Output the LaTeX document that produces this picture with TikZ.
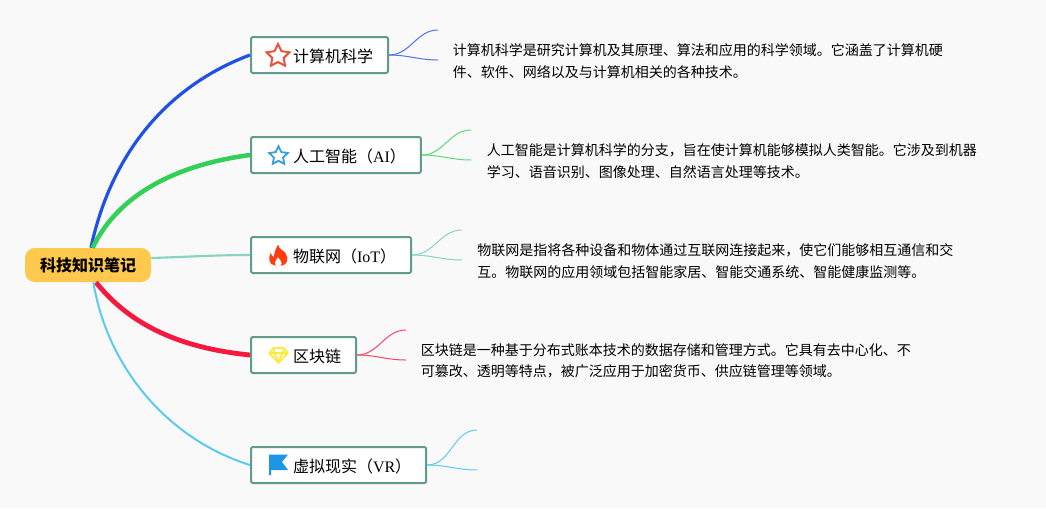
\documentclass[tikz,border=0pt]{standalone}
\usepackage{fontspec}
\setmainfont{Noto Sans CJK SC}
\newfontfamily\latinpart{Liberation Serif}
\usetikzlibrary{shapes.geometric}
\definecolor{paper}{HTML}{F9F9F9}
\definecolor{rootfill}{HTML}{FFC94D}
\definecolor{boxline}{HTML}{5F9C8D}
\definecolor{csblue}{HTML}{1F50E8}
\definecolor{aigreen}{HTML}{33D058}
\definecolor{iotteal}{HTML}{86D4C4}
\definecolor{chainred}{HTML}{F5193F}
\definecolor{vrblue}{HTML}{5CCBF0}
\definecolor{starred}{HTML}{E8533F}
\definecolor{starblue}{HTML}{3AA0DC}
\definecolor{flamered}{HTML}{FF3D0F}
\definecolor{gemyellow}{HTML}{FBEB45}
\definecolor{flagblue}{HTML}{1E96E6}
\begin{document}
\begin{tikzpicture}[
    x=0.75pt,
    y=-0.75pt,
    root/.style={
        rectangle,
        rounded corners=7.5pt,
        fill=rootfill,
        minimum width=94.5pt,
        minimum height=25.5pt,
        inner sep=0pt,
        font=\fontsize{12}{14}\selectfont\bfseries
    },
    topic/.style={
        rectangle,
        draw=boxline,
        fill=white,
        line width=1.5pt,
        rounded corners=1.5pt,
        anchor=west,
        minimum height=27pt,
        inner xsep=11.25pt,
        inner ysep=0pt,
        text height=11pt,
        text depth=0.5pt,
        execute at begin node=\hspace*{20.25pt},
        font=\fontsize{12}{14}\selectfont
    },
    note/.style={
        anchor=west,
        align=left,
        inner sep=0pt,
        font=\fontsize{10.5}{16}\selectfont
    },
    branch/.style={
        line cap=butt
    },
    twig/.style={
        line width=0.75pt
    },
    staricon/.style={
        star,
        star points=5,
        star point ratio=2,
        inner sep=0pt,
        fill=white
    }
]

% Fondo
\useasboundingbox (0,0) rectangle (1046,508);
\fill[paper] (0,0) rectangle (1046,508);

% Nodo central
\node[root] (root) at (88,265) {科技知识笔记};

% Temas
\node[topic] (cs) at (250,55) {计算机科学};
\node[topic] (ai) at (250,155) {人工智能（{\latinpart AI}）};
\node[topic] (iot) at (250,255) {物联网（{\latinpart IoT}）};
\node[topic] (chain) at (250,355) {区块链};
\node[topic] (vr) at (250,465) {虚拟现实（{\latinpart VR}）};

% Ramas principales
\draw[branch, csblue, line width=2.4pt] ([xshift=2.2pt]root.north) .. controls (112,150) and (170,85) .. (cs.west);
\draw[branch, aigreen, line width=3.4pt] ([xshift=3.5pt]root.north) .. controls (118,195) and (175,165) .. (ai.west);
\draw[branch, iotteal, line width=1.6pt] (root.east |- 0,258) .. controls (185,257) and (215,255) .. (iot.west);
\draw[branch, chainred, line width=3.6pt] ([xshift=6pt]root.south) .. controls (130,325) and (180,348) .. (chain.west);
\draw[branch, vrblue, line width=1.5pt] ([xshift=4pt]root.south) .. controls (108,370) and (170,440) .. (vr.west);

% Extremos libres
\coordinate (csup) at (438,30);
\coordinate (csdown) at (438,60);
\coordinate (aiup) at (471,130);
\coordinate (aidown) at (471,160);
\coordinate (iotup) at (462,230);
\coordinate (iotdown) at (462,260);
\coordinate (chainup) at (406,330);
\coordinate (chaindown) at (406,360);
\coordinate (vrup) at (477,430);
\coordinate (vrdown) at (477,470);

% Ramas finas
\draw[twig, csblue!80] (cs.east) to[out=0, in=180] (csup);
\draw[twig, csblue!80] (cs.east) to[out=0, in=180] (csdown);
\draw[twig, aigreen!80] (ai.east) to[out=0, in=180] (aiup);
\draw[twig, aigreen!80] (ai.east) to[out=0, in=180] (aidown);
\draw[twig, iotteal] (iot.east) to[out=0, in=180] (iotup);
\draw[twig, iotteal] (iot.east) to[out=0, in=180] (iotdown);
\draw[twig, chainred!80] (chain.east) to[out=0, in=180] (chainup);
\draw[twig, chainred!80] (chain.east) to[out=0, in=180] (chaindown);
\draw[twig, vrblue] (vr.east) to[out=0, in=180] (vrup);
\draw[twig, vrblue] (vr.east) to[out=0, in=180] (vrdown);

% Textos
\node[note] (csnote) at (452.500,61) {计算机科学是研究计算机及其原理、算法和应用的科学领域。它涵盖了计算机硬\\件、软件、网络以及与计算机相关的各种技术。};
\node[note] (ainote) at (486.500,161) {人工智能是计算机科学的分支，旨在使计算机能够模拟人类智能。它涉及到机器\\学习、语音识别、图像处理、自然语言处理等技术。};
\node[note] (iotnote) at (477,261) {物联网是指将各种设备和物体通过互联网连接起来，使它们能够相互通信和交\\互。物联网的应用领域包括智能家居、智能交通系统、智能健康监测等。};
\node[note] (chainnote) at (420.500,361) {区块链是一种基于分布式账本技术的数据存储和管理方式。它具有去中心化、不\\可篡改、透明等特点，被广泛应用于加密货币、供应链管理等领域。};

% Iconos
\node[staricon, draw=starred, line width=1.5pt, minimum size=18pt] (csstar) at (278,56) {};
\node[staricon, draw=starblue, line width=1.4pt, minimum size=14.5pt] (aistar) at (278.500,156) {};
\fill[flamered, even odd rule] (278,244.500) .. controls (279,250) and (284,250) .. (286,254) .. controls (289,259) and (287,265) .. (282,265.500) -- (275,265.500) .. controls (269,265) and (268,258) .. (270.500,253) .. controls (271.500,255) and (272.500,256.500) .. (274,257) .. controls (274,252) and (276,249) .. (278,244.500) -- cycle
    (278,257) .. controls (276,260) and (274,262) .. (275.500,265.500) -- (281,265.500) .. controls (283,262) and (280,260) .. (278,257) -- cycle;
\filldraw[gemyellow, fill=gemyellow!45, line width=1.2pt, line join=round] (273,348) -- (284,348) -- (288,353) -- (278.500,363) -- (269,353) -- cycle
    (269,353) -- (288,353) (273,348) -- (275,353) -- (278.500,363) -- (282,353) -- (284,348);
\fill[flagblue] (269,454.500) -- (288,454.500) -- (282,462) -- (288,470) -- (271,470) -- (271,475) -- (269,475) -- cycle;

\end{tikzpicture}
\end{document}
